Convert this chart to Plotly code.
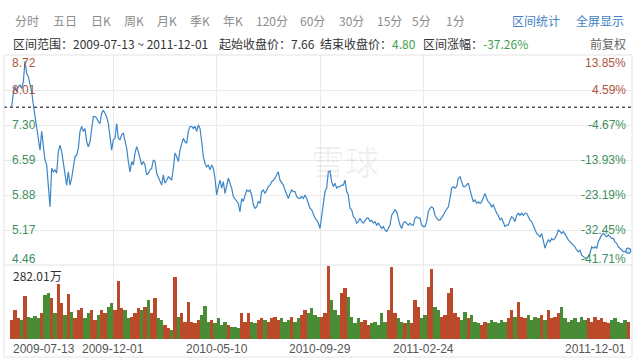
import plotly.graph_objects as go

# ---------------- data ----------------
PRICE = [
    7.67, 7.94, 8.08, 7.98, 8.08, 8.11, 8.04, 8.18, 8.59, 8.35,
    8.28, 8.11, 7.98, 7.71, 7.47, 7.30, 7.06, 6.79, 7.17, 6.89,
    6.59, 6.49, 6.02, 5.64, 6.42, 6.35, 6.39, 6.32, 6.76, 6.89,
    6.76, 6.56, 6.29, 6.08, 6.35, 6.08, 6.22, 6.42, 6.66, 6.69,
    6.83, 7.17, 7.27, 7.17, 7.23, 6.96, 6.86, 6.96, 7.27, 7.47,
    7.47, 7.44, 7.37, 7.33, 7.54, 7.60, 7.54, 7.47, 7.33, 7.10,
    6.79, 7.00, 7.03, 7.33, 7.03, 7.00, 7.10, 7.13, 7.00, 6.83,
    6.56, 6.35, 6.56, 6.49, 6.73, 6.86, 6.76, 6.62, 6.49, 6.56,
    6.49, 6.29, 6.32, 6.39, 6.42, 6.59,
    6.56, 6.32, 6.25, 6.18, 6.08, 6.29, 6.12, 6.18, 6.25, 6.22,
    6.18, 6.42, 6.73, 6.66, 6.56, 6.79, 6.89, 7.03, 6.96, 6.93,
    7.17, 7.27, 7.27, 7.23, 7.27, 7.17, 7.30, 7.23, 6.96, 6.66,
    6.52, 6.45, 6.49, 6.39, 6.49, 6.42, 6.22, 5.88, 6.05, 6.18,
    6.02, 6.15, 5.91, 6.08, 6.22, 6.12, 6.02, 5.85, 5.81, 5.75,
    5.71, 5.54, 5.81, 5.75, 5.88, 5.98, 5.95, 5.98, 5.88, 5.68,
    5.61, 5.64, 5.75, 5.71, 5.95, 5.98, 5.91, 5.98, 6.05, 6.08,
    6.15, 6.18, 6.22, 6.29, 6.35, 6.18, 6.12, 6.08, 5.98, 5.88,
    5.81, 5.91, 5.98, 5.95, 5.95, 5.85, 5.81, 5.81, 5.85, 5.81,
    5.88, 5.81, 5.71,
    5.61, 5.58, 5.47, 5.41, 5.37, 5.31, 5.20, 5.47, 5.68, 5.95,
    6.02, 6.35, 6.37, 6.15, 6.05, 6.12, 6.02, 6.05, 6.05, 6.08,
    6.08, 6.18, 5.95, 5.88, 5.61, 5.58, 5.44, 5.41, 5.31, 5.34,
    5.41, 5.34, 5.31, 5.37, 5.41, 5.41, 5.34, 5.37, 5.31, 5.34,
    5.27, 5.31, 5.24, 5.20, 5.24, 5.17, 5.14, 5.20, 5.27, 5.47,
    5.54, 5.58, 5.54, 5.41, 5.27, 5.20, 5.31, 5.34, 5.31, 5.27,
    5.31, 5.27, 5.27, 5.41, 5.44, 5.41, 5.41, 5.27, 5.24, 5.24,
    5.34, 5.54, 5.61, 5.64, 5.61, 5.47, 5.41, 5.37, 5.37, 5.41,
    5.47, 5.54, 5.58, 5.64, 5.81, 6.02, 6.05, 6.02, 6.05, 6.22,
    6.25, 6.12, 6.05, 6.05, 6.08, 6.12, 5.98, 5.88, 5.74, 5.78,
    5.71, 5.74, 5.71, 5.74, 5.81, 5.91, 5.81, 5.74, 5.71, 5.64,
    5.68, 5.58, 5.51, 5.47, 5.37, 5.41, 5.31, 5.24, 5.27, 5.27,
    5.37, 5.44, 5.41, 5.34, 5.47, 5.51, 5.47, 5.51, 5.47, 5.51,
    5.51, 5.44, 5.37, 5.34, 5.27, 5.17, 5.10, 5.07, 5.03, 5.10,
    4.97, 4.80, 4.90, 4.97, 4.93, 5.00, 4.97, 5.00, 5.07, 5.17,
    5.14, 5.10, 5.14, 5.07, 5.03, 4.97, 4.93, 4.90, 4.87, 4.83,
    4.76, 4.73, 4.76, 4.66, 4.63, 4.60, 4.60, 4.63, 4.70, 4.83,
    4.80, 4.83, 4.80, 4.93, 5.00, 5.07, 5.10, 5.07, 5.03, 5.07,
    5.03, 5.00, 5.00, 4.93, 4.90, 4.83, 4.80, 4.76, 4.73, 4.73,
    4.72, 4.75,
]

# volume (万手) sampled on every second session
VOLUME = [
    73, 112, 80, 73, 166, 86, 80, 89, 80, 99,
    170, 176, 157, 99, 212, 138, 93, 172, 106, 80,
    112, 118, 80, 99, 112, 73, 93, 112, 99, 125,
    138, 112, 225, 118, 112, 80, 86, 99, 118, 112,
    125, 151, 99, 157, 80, 73, 54, 41, 35, 238,
    86, 99, 67, 142, 67, 61, 73, 93, 129, 67,
    73, 61, 80, 54, 67, 54, 48, 48, 41, 99,
    67, 102, 67, 61, 73, 80, 73, 67, 80, 86,
    73, 80, 67, 73, 86, 67, 80, 93, 112, 99,
    118, 93, 86,
    86, 99, 282, 151, 112, 93, 176, 196, 164, 86,
    61, 80, 67, 73, 54, 61, 67, 54, 99, 67,
    112, 280, 99, 80, 67, 61, 73, 61, 151, 125,
    80, 93, 202, 269, 125, 112, 86, 93, 176, 196,
    99, 86, 73, 106, 80, 93, 67, 61, 54, 67,
    61, 73, 67, 61, 73, 67, 80, 112, 86, 144,
    86, 80, 93, 73, 86, 80, 93, 73, 112, 80,
    86, 99, 125, 80, 67, 73, 80, 67, 86, 73,
    80, 67, 86, 73, 80, 67, 61, 73, 80, 67,
    61, 73, 67,
]

TICK_DATES = ["2009-12-01", "2010-05-10", "2010-09-29", "2011-02-24"]
TICK_IDX = [61, 123, 185, 247]
FIRST_DATE = "2009-07-13"
LAST_DATE = "2011-12-01"
Y_TICKS = [8.72, 8.01, 7.30, 6.59, 5.88, 5.17, 4.46]
PCT_LABELS = ["13.85%", "4.59%", "-4.67%", "-13.93%", "-23.19%", "-32.45%", "-41.71%"]
START_CLOSE = 7.66
END_CLOSE = 4.80
CHANGE = "-37.26%"
VOL_MAX = 282.01
VOL_MAX_LABEL = "282.01万"
TOOLBAR = ["分时", "五日", "日K", "周K", "月K", "季K", "年K", "120分", "60分", "30分", "15分", "5分", "1分"]
TOOLS_RIGHT = ["区间统计", "全屏显示"]

# ---------------- layout constants ----------------
W, H = 640, 360
TOOLBAR_X = [27, 65, 101, 134, 167, 200, 233, 272, 312, 351, 389, 421, 455]
TOOLS_RIGHT_X = [536, 600]
RED = "#b0533f"
GREEN = "#3f8f5e"
LINE = "#3d86c6"
FONT = "Liberation Sans, Arial, Noto Sans CJK SC, sans-serif"
CJK = "Noto Sans CJK SC, Liberation Sans, sans-serif"


def px(x):
    return x / W


def py(y):
    return 1 - y / H


N = len(PRICE)
xs = list(range(N))
vol_x = [2 * k for k in range(len(VOLUME))]
vol_col = []
for k, xi in enumerate(vol_x):
    prev = PRICE[xi - 2] if xi >= 2 else START_CLOSE
    vol_col.append("#bb4a2b" if PRICE[xi] >= prev else "#4a8b35")

fig = go.Figure()
fig.add_trace(go.Bar(x=vol_x, y=VOLUME, marker=dict(color=vol_col, line=dict(width=0)),
                     width=1.85, xaxis="x2", yaxis="y2", hoverinfo="skip"))
fig.add_trace(go.Scatter(x=xs, y=PRICE, mode="lines",
                         line=dict(color=LINE, width=1.2), hoverinfo="skip"))
fig.add_trace(go.Scatter(x=[N - 1], y=[PRICE[-1]], mode="markers",
                         marker=dict(size=5, color="#dbeaf6", line=dict(color=LINE, width=1.2)),
                         hoverinfo="skip"))

xr = [-4.6, 372.2]
xdom = [px(4), px(632)]
grid = "#ebebeb"
fig.update_layout(
    width=W, height=H, margin=dict(l=0, r=0, t=0, b=0),
    paper_bgcolor="white", plot_bgcolor="white", showlegend=False,
    bargap=0, hovermode=False,
    xaxis=dict(domain=xdom, range=xr, anchor="y", tickvals=TICK_IDX, showticklabels=False,
               showgrid=True, gridcolor=grid, zeroline=False, showline=False, ticks=""),
    xaxis2=dict(domain=xdom, range=xr, anchor="y2", matches="x", tickvals=TICK_IDX,
                showticklabels=False, showgrid=True, gridcolor=grid, zeroline=False,
                showline=False, ticks=""),
    yaxis=dict(domain=[py(265), py(55)], range=[Y_TICKS[-1], Y_TICKS[0]], tickvals=Y_TICKS,
               showticklabels=False, showgrid=True, gridcolor=grid, zeroline=False, ticks=""),
    yaxis2=dict(domain=[py(339), py(266)], range=[0, VOL_MAX], showticklabels=False,
                showgrid=False, zeroline=False, ticks=""),
)

shapes = [
    dict(type="line", xref="paper", yref="y", x0=px(4), x1=px(632), y0=START_CLOSE, y1=START_CLOSE,
         line=dict(color="#555", width=1.3, dash="dot")),
    dict(type="rect", xref="paper", yref="paper", x0=px(4), x1=px(632), y0=py(357), y1=py(55),
         line=dict(color="#e3e3e3", width=1)),
    dict(type="line", xref="paper", yref="paper", x0=px(4), x1=px(632), y0=py(265), y1=py(265),
         line=dict(color="#e3e3e3", width=1)),
]
fig.update_layout(shapes=shapes)

ann = []
# toolbar
for t, x in zip(TOOLBAR, TOOLBAR_X):
    ann.append(dict(text=t, x=px(x), y=py(20), xanchor="center", yanchor="middle",
                    font=dict(family=CJK, size=12, color="#8c8c8c")))
for t, x in zip(TOOLS_RIGHT, TOOLS_RIGHT_X):
    ann.append(dict(text=t, x=px(x), y=py(20), xanchor="center", yanchor="middle",
                    font=dict(family=CJK, size=12, color="#3f7fc6")))
# info row
info_font = dict(family=CJK, size=12, color="#333")
ann.append(dict(text=f"区间范围：{FIRST_DATE} ~ {LAST_DATE}", x=px(11), y=py(43),
                xanchor="left", yanchor="middle", font=info_font))
ann.append(dict(text=f"起始收盘价：{START_CLOSE:.2f}", x=px(217), y=py(43),
                xanchor="left", yanchor="middle", font=info_font))
ann.append(dict(text=f"结束收盘价：<span style='color:#3fa04f'>{END_CLOSE:.2f}</span>", x=px(318), y=py(43),
                xanchor="left", yanchor="middle", font=info_font))
ann.append(dict(text=f"区间涨幅：<span style='color:#3fa04f'>{CHANGE}</span>", x=px(421), y=py(43),
                xanchor="left", yanchor="middle", font=info_font))
ann.append(dict(text="前复权", x=px(628), y=py(43), xanchor="right", yanchor="middle",
                font=dict(family=CJK, size=12, color="#666")))

# axis labels
n = len(Y_TICKS)
for i, (v, pl) in enumerate(zip(Y_TICKS, PCT_LABELS)):
    ypix = 55 + i * 35
    if i == 0:
        ypix = 63
    elif i == n - 1:
        ypix = 259
    col = RED if v > START_CLOSE else GREEN
    ann.append(dict(text=f"{v:.2f}", x=px(10), y=py(ypix), xanchor="left", yanchor="middle",
                    font=dict(family=FONT, size=12, color=col)))
    ann.append(dict(text=pl, x=px(628), y=py(ypix), xanchor="right", yanchor="middle",
                    font=dict(family=FONT, size=12, color=col)))

ann.append(dict(text=VOL_MAX_LABEL, x=px(11), y=py(275), xanchor="left", yanchor="middle",
                font=dict(family=CJK, size=12, color="#333")))

# dates
date_font = dict(family=FONT, size=12, color="#555")
ann.append(dict(text=FIRST_DATE, x=px(11), y=py(349), xanchor="left", yanchor="middle", font=date_font))
for t, xi in zip(TICK_DATES, TICK_IDX):
    ann.append(dict(text=t, xref="x2", x=xi, y=py(349), xanchor="center", yanchor="middle", font=date_font))
ann.append(dict(text=LAST_DATE, x=px(628), y=py(349), xanchor="right", yanchor="middle", font=date_font))

# faint watermark
ann.append(dict(text="雪球", x=px(345), y=py(160), xanchor="center", yanchor="middle",
                font=dict(family=CJK, size=34, color="rgba(0,0,0,0.06)")))

for a in ann:
    a.setdefault("xref", "paper")
    a.setdefault("yref", "paper")
    a["showarrow"] = False
fig.update_layout(annotations=ann)

fig.write_html("out.html", config={"displayModeBar": False, "staticPlot": True},
               post_script="document.body.style.margin='0px';document.body.style.padding='0px';")
